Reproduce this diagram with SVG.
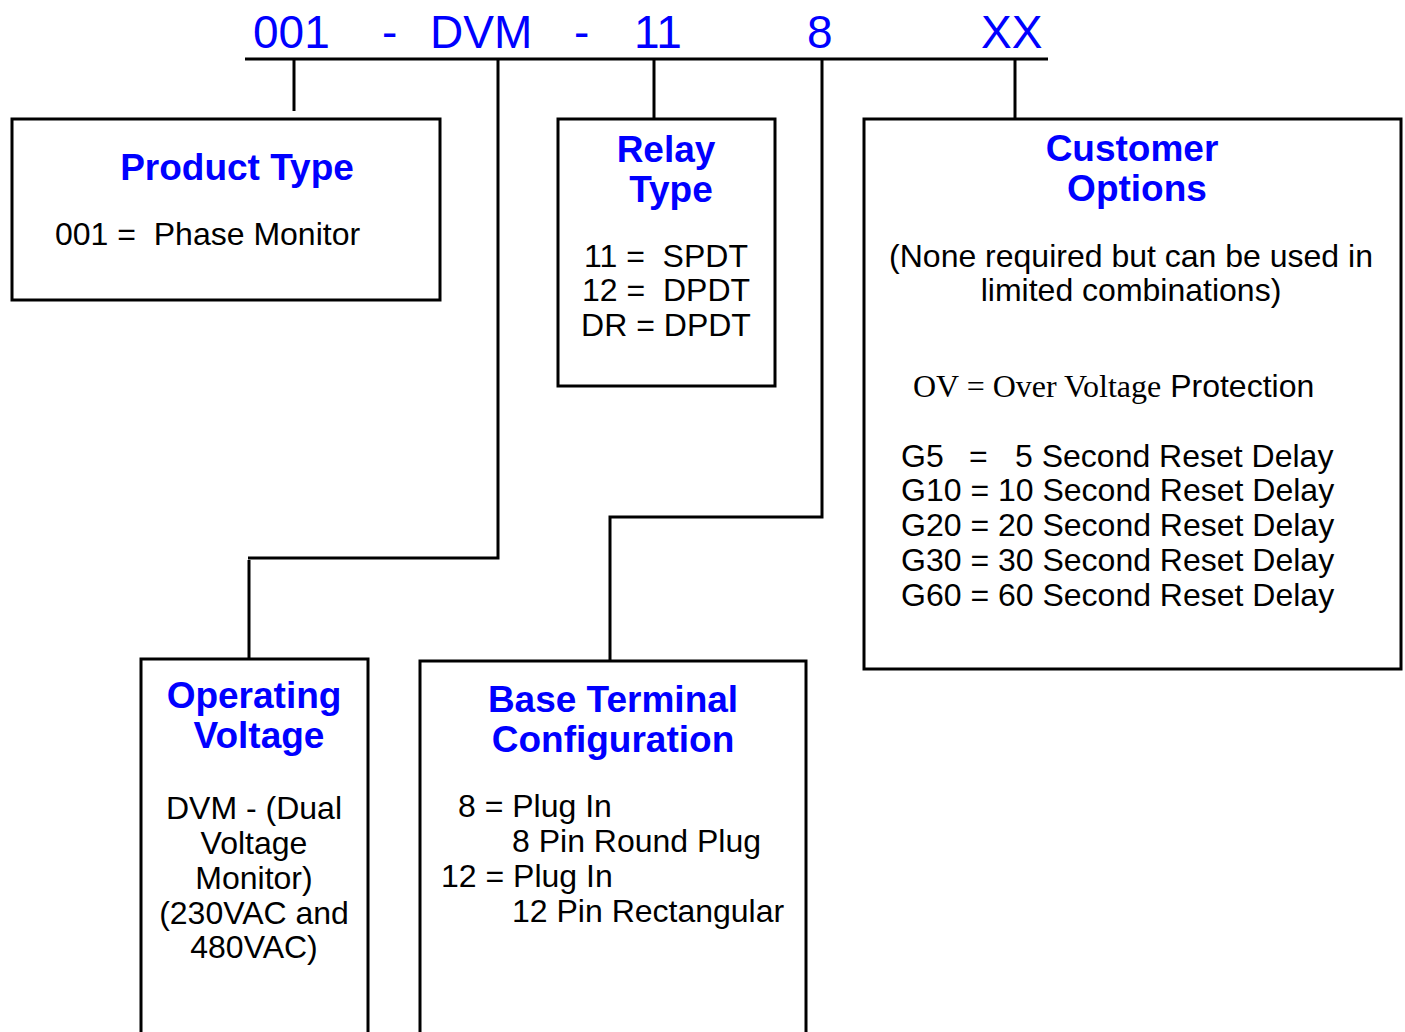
<svg xmlns="http://www.w3.org/2000/svg" width="1405" height="1032" viewBox="0 0 1405 1032">
<style>
.box{fill:#fff;stroke:#000;stroke-width:3}
.ln{fill:none;stroke:#000;stroke-width:3}
.code{font-family:"Liberation Sans",Arial,sans-serif;font-size:46px;fill:#0000ff}
.h{font-family:"Liberation Sans",Arial,sans-serif;font-size:37px;font-weight:bold;fill:#0000ff;text-anchor:middle}
.t{font-family:"Liberation Sans",Arial,sans-serif;font-size:32px;fill:#000}
.c{text-anchor:middle}
.serif{font-family:"Liberation Serif","Times New Roman",serif}
</style>
<rect width="1405" height="1032" fill="#fff"/>
<g id="code">
<text class="code" x="253" y="48">001</text>
<text class="code" x="382" y="48">-</text>
<text class="code" x="430" y="48">DVM</text>
<text class="code" x="574" y="48">-</text>
<text class="code" x="634" y="48">11</text>
<text class="code" x="807" y="48">8</text>
<text class="code" x="981" y="48">XX</text>
</g>
<g id="connectors">
<line class="ln" x1="245" y1="59" x2="1048" y2="59"/>
<line class="ln" x1="294" y1="59" x2="294" y2="111"/>
<polyline class="ln" points="498,59 498,558 248,558"/>
<line class="ln" x1="249" y1="560" x2="249" y2="659"/>
<line class="ln" x1="654" y1="59" x2="654" y2="119"/>
<polyline class="ln" points="822,59 822,517 610,517 610,661"/>
<line class="ln" x1="1015" y1="59" x2="1015" y2="119"/>
</g>
<g id="product-type">
<rect class="box" x="12" y="119" width="428" height="181"/>
<text class="h" x="237" y="180">Product Type</text>
<text class="t" x="55" y="245" xml:space="preserve">001 =  Phase Monitor</text>
</g>
<g id="relay-type">
<rect class="box" x="558" y="119" width="217" height="267"/>
<text class="h" x="666" y="162">Relay</text>
<text class="h" x="671" y="202">Type</text>
<text class="t c" x="666" y="267" xml:space="preserve">11 =  SPDT</text>
<text class="t c" x="666" y="301" xml:space="preserve">12 =  DPDT</text>
<text class="t c" x="666" y="336">DR = DPDT</text>
</g>
<g id="customer-options">
<rect class="box" x="864" y="119" width="537" height="550"/>
<text class="h" x="1132" y="161">Customer</text>
<text class="h" x="1137" y="201">Options</text>
<text class="t c" x="1131" y="267">(None required but can be used in</text>
<text class="t c" x="1131" y="301">limited combinations)</text>
<text class="t" x="913" y="397"><tspan class="serif">OV = Over Voltage</tspan> Protection</text>
<text class="t" x="901" y="467">G5</text>
<text class="t" x="969" y="467">=</text>
<text class="t" x="1015" y="467">5 Second Reset Delay</text>
<text class="t" x="901" y="501">G10 = 10 Second Reset Delay</text>
<text class="t" x="901" y="536">G20 = 20 Second Reset Delay</text>
<text class="t" x="901" y="571">G30 = 30 Second Reset Delay</text>
<text class="t" x="901" y="606">G60 = 60 Second Reset Delay</text>
</g>
<g id="operating-voltage">
<rect class="box" x="141" y="659" width="227" height="380"/>
<text class="h" x="254" y="708">Operating</text>
<text class="h" x="259" y="748">Voltage</text>
<text class="t c" x="254" y="819">DVM - (Dual</text>
<text class="t c" x="254" y="854">Voltage</text>
<text class="t c" x="254" y="889">Monitor)</text>
<text class="t c" x="254" y="924">(230VAC and</text>
<text class="t c" x="254" y="958">480VAC)</text>
</g>
<g id="base-terminal">
<rect class="box" x="420" y="661" width="386" height="380"/>
<text class="h" x="613" y="712">Base Terminal</text>
<text class="h" x="613" y="752">Configuration</text>
<text class="t" x="458" y="817">8 = Plug In</text>
<text class="t" x="512" y="852">8 Pin Round Plug</text>
<text class="t" x="441" y="887">12 = Plug In</text>
<text class="t" x="512" y="922">12 Pin Rectangular</text>
</g>
</svg>
